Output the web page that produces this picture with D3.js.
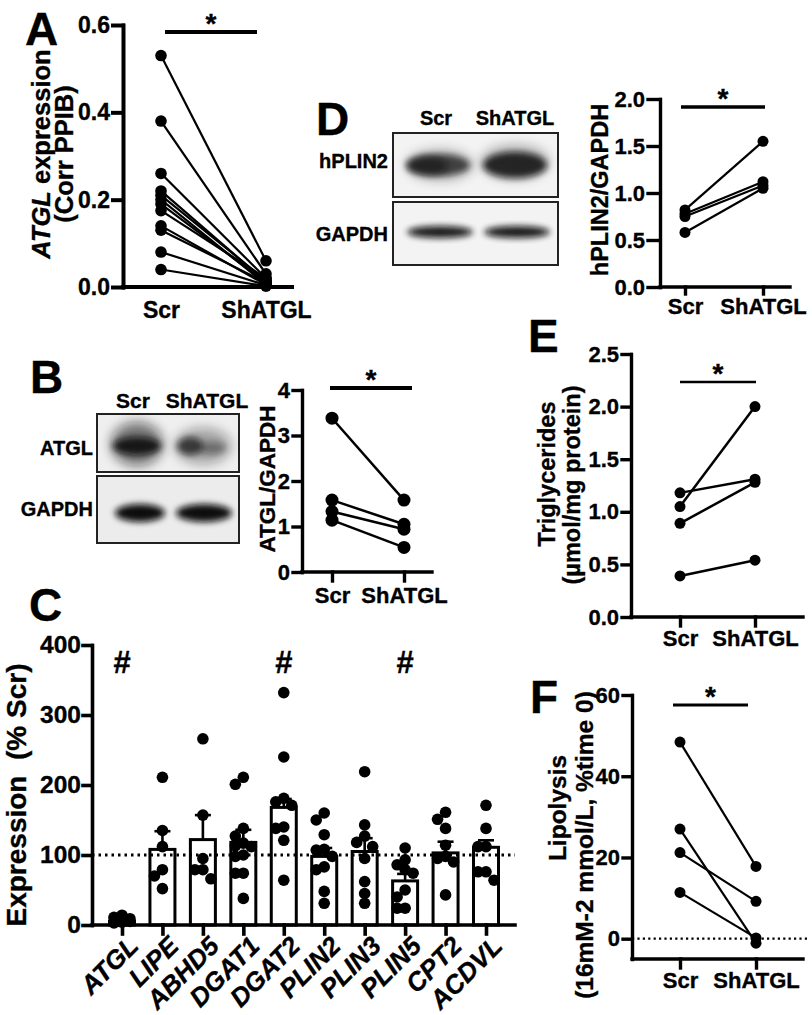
<!DOCTYPE html>
<html><head><meta charset="utf-8">
<script src="https://cdn.jsdelivr.net/npm/d3@7"></script>
<style>
body{margin:0;background:#fff;}
svg{display:block;}
text{font-family:"Liberation Sans",Arial,Helvetica,sans-serif;font-weight:bold;fill:#000;stroke:#000;stroke-width:0.35px;}
</style></head><body>
<svg id="fig" width="812" height="1015" xmlns="http://www.w3.org/2000/svg"></svg>
<script>
// ---------------- DATA ----------------
const groups = ["Scr", "ShATGL"];

// A: ATGL expression (Corr PPIB)
const atglScr = [0.53, 0.38, 0.26, 0.22, 0.21, 0.20, 0.19, 0.175, 0.14, 0.13, 0.08, 0.04];
const atglSh  = [0.06, 0.03, 0.02, 0.012, 0.015, 0.006, 0.01, 0.02, 0.005, 0.01, 0.004, 0.002];
const atglTicks = [0, 0.2, 0.4, 0.6];

// B: ATGL/GAPDH
const wbScr = [3.38, 1.58, 1.33, 1.14];
const wbSh  = [1.58, 1.05, 0.94, 0.54];
const wbTicks = [0, 1, 2, 3, 4];

// D: hPLIN2/GAPDH
const plinScr = [0.82, 0.78, 0.75, 0.58];
const plinSh  = [1.55, 1.12, 1.08, 1.05];
const plinTicks = [0, 0.5, 1.0, 1.5, 2.0];

// C: Expression (% Scr)
const genes = ["ATGL", "LIPE", "ABHD5", "DGAT1", "DGAT2", "PLIN2", "PLIN3", "PLIN5", "CPT2", "ACDVL"];
const geneMean = [5, 108, 122, 118, 168, 98, 105, 63, 103, 111];
const geneSem  = [2, 26, 35, 18, 12, 12, 19, 10, 16, 10];
const genePoints = [
  [14, 11, 9, 7, 6, 5, 4, 3],
  [211, 135, 112, 79, 70, 52],
  [266, 157, 95, 79, 79, 66],
  [201, 211, 138, 127, 117, 113, 112, 100, 98, 74, 74, 38],
  [332, 240, 181, 176, 171, 140, 138, 121, 64],
  [160, 150, 129, 108, 107, 98, 83, 79, 48, 31],
  [219, 143, 127, 118, 112, 95, 62, 45, 31],
  [110, 93, 86, 79, 74, 50, 40, 24, 24],
  [161, 151, 138, 114, 98, 95, 90, 43],
  [171, 138, 112, 112, 76, 76, 64]
];
const geneSig = ["ATGL", "DGAT2", "PLIN5"];
const geneTicks = [0, 100, 200, 300, 400];

// E: Triglycerides
const tgScr = [1.18, 1.05, 0.89, 0.39];
const tgSh  = [1.31, 2.00, 1.28, 0.54];
const tgTicks = [0, 0.5, 1.0, 1.5, 2.0, 2.5];

// F: Lipolysis
const lipScr = [48.4, 27.0, 21.2, 11.4];
const lipSh  = [17.8, -1.1, 9.2, 0.2];
const lipTicks = [0, 20, 40, 60];

// ---------------- DRAWING ----------------
const svg = d3.select("#fig");
const defs = svg.append("defs");
defs.append("filter").attr("id", "blur").attr("x", "-50%").attr("y", "-50%").attr("width", "200%").attr("height", "200%")
  .append("feGaussianBlur").attr("stdDeviation", 3.2);
defs.append("filter").attr("id", "blur2").attr("x", "-50%").attr("y", "-50%").attr("width", "200%").attr("height", "200%")
  .append("feGaussianBlur").attr("stdDeviation", 6);

function styleAxis(a, sw, fs) {
  a.attr("font-size", null).attr("font-family", null);
  a.selectAll("path,line").attr("stroke", "#000").attr("stroke-width", sw).attr("stroke-linecap", "square");
  a.selectAll("text").style("font-size", fs + "px").attr("fill", "#000");
}

function letter(t, x, y) {
  svg.append("text").attr("x", x).attr("y", y).style("font-size", "46px").text(t);
}

function vtitle(lines, cx, cys, fs, gap) {
  lines.forEach((ln, i) => {
    const cy = Array.isArray(cys) ? cys[i] : cys;
    const t = svg.append("text")
      .attr("transform", `translate(${cx + i * gap},${cy}) rotate(-90)`)
      .attr("text-anchor", "middle").attr("dy", "0.35em")
      .style("font-size", fs + "px");
    ln.forEach(seg => t.append("tspan").style("font-style", seg.i ? "italic" : "normal").text(seg.t));
  });
}

function paired(cfg) {
  const g = svg.append("g");
  const xs = cfg.xs, ys = cfg.ys;
  const y0 = ys.range()[0];
  if (cfg.zeroLine) {
    g.append("line").attr("x1", cfg.axisX).attr("x2", cfg.zeroLine).attr("y1", ys(0)).attr("y2", ys(0))
      .attr("stroke", "#000").attr("stroke-width", 2.2).attr("stroke-dasharray", "2.2,3.2");
  }
  const ya = g.append("g").attr("transform", `translate(${cfg.axisX},0)`)
    .call(d3.axisLeft(ys).tickValues(cfg.ticks).tickFormat(cfg.fmt).tickSize(cfg.ytick).tickSizeOuter(0).tickPadding(3));
  const xa = g.append("g").attr("transform", `translate(0,${y0})`)
    .call(d3.axisBottom(xs).tickSize(cfg.xtick).tickSizeOuter(0).tickPadding(cfg.xpad));
  xa.select(".domain").attr("d", `M${cfg.axisX},0H${cfg.axisEnd}`);
  styleAxis(ya, cfg.sw, cfg.fs);
  styleAxis(xa, cfg.sw, cfg.xfs || cfg.fs);
  const pairs = cfg.scr.map((v, i) => [v, cfg.sh[i]]);
  g.selectAll("line.pair").data(pairs).join("line").attr("class", "pair")
    .attr("x1", xs("Scr")).attr("x2", xs("ShATGL"))
    .attr("y1", d => ys(d[0])).attr("y2", d => ys(d[1]))
    .attr("stroke", "#000").attr("stroke-width", cfg.lw);
  const pts = [];
  pairs.forEach(p => { pts.push(["Scr", p[0]]); pts.push(["ShATGL", p[1]]); });
  g.selectAll("circle").data(pts).join("circle")
    .attr("cx", d => xs(d[0])).attr("cy", d => ys(d[1])).attr("r", cfg.r).attr("fill", "#000");
  const s = cfg.sig;
  g.append("line").attr("x1", s.x1).attr("x2", s.x2).attr("y1", s.y).attr("y2", s.y)
    .attr("stroke", "#000").attr("stroke-width", s.w);
  g.append("text").attr("x", (s.x1 + s.x2) / 2).attr("y", s.y + 1).attr("text-anchor", "middle")
    .style("font-size", "28px").text("*");
}

function blot(x, y, w, h, fill, bands) {
  const g = svg.append("g");
  g.append("rect").attr("x", x).attr("y", y).attr("width", w).attr("height", h)
    .attr("fill", fill).attr("stroke", "#222").attr("stroke-width", 2);
  const clipId = "clip" + Math.round(x) + "_" + Math.round(y);
  defs.append("clipPath").attr("id", clipId).append("rect").attr("x", x).attr("y", y).attr("width", w).attr("height", h);
  const inner = g.append("g").attr("clip-path", `url(#${clipId})`);
  bands.forEach(b => {
    inner.append("ellipse").attr("cx", b[0]).attr("cy", b[1]).attr("rx", b[2]).attr("ry", b[3])
      .attr("fill", "#0a0a0a").attr("opacity", b[4]).attr("filter", b[5] ? "url(#blur2)" : "url(#blur)");
  });
}

// ---------- Panel A ----------
letter("A", 25, 45);
paired({
  xs: d3.scalePoint().domain(groups).range([161, 266]),
  ys: d3.scaleLinear().domain([0, 0.6]).range([287, 25]),
  axisX: 123, axisEnd: 292, ticks: atglTicks, fmt: d3.format(".1f"),
  ytick: 10, xtick: 0, xpad: 15, sw: 4, fs: 23, lw: 2.2, r: 5.8,
  scr: atglScr, sh: atglSh, sig: {x1: 165, x2: 257, y: 32, w: 4}
});
vtitle([[{t: "ATGL", i: true}, {t: " expression"}], [{t: "(Corr PPIB)"}]], 41, 154, 25.5, 23);

// ---------- Panel D ----------
letter("D", 316, 135);
blot(393, 133, 165, 64, "#f3f3f3", [
  [438, 165, 32, 11, 0.7, false], [428, 166, 20, 9, 0.55, false], [440, 165, 34, 16, 0.25, true],
  [515, 165, 32, 13, 0.85, false], [515, 162, 34, 17, 0.3, true]
]);
blot(393, 202, 165, 63, "#f3f3f3", [
  [440, 232, 33, 6, 0.95, false], [517, 232, 33, 6, 0.95, false]
]);
svg.append("text").attr("x", 436).attr("y", 125).attr("text-anchor", "middle").style("font-size", "20px").text("Scr");
svg.append("text").attr("x", 515).attr("y", 125).attr("text-anchor", "middle").style("font-size", "20px").text("ShATGL");
svg.append("text").attr("x", 388).attr("y", 168).attr("text-anchor", "end").style("font-size", "20px").text("hPLIN2");
svg.append("text").attr("x", 388).attr("y", 241).attr("text-anchor", "end").style("font-size", "20px").text("GAPDH");
paired({
  xs: d3.scalePoint().domain(groups).range([685, 763]),
  ys: d3.scaleLinear().domain([0, 2]).range([287, 99]),
  axisX: 660, axisEnd: 790, ticks: plinTicks, fmt: d3.format(".1f"),
  ytick: 12, xtick: 7, xpad: 4, sw: 3.4, fs: 22, lw: 2.2, r: 5.5,
  scr: plinScr, sh: plinSh, sig: {x1: 681, x2: 765, y: 107, w: 3.5}
});
vtitle([[{t: "hPLIN2/GAPDH"}]], 600, 190, 23.5, 0);

// ---------- Panel B ----------
letter("B", 30, 393);
blot(97, 414, 142, 58, "#efefef", [
  [137, 444, 26, 22, 0.55, true], [137, 446, 24, 9, 0.9, false],
  [203, 446, 28, 18, 0.35, true], [190, 446, 13, 9, 0.7, false], [212, 448, 14, 6, 0.35, false]
]);
blot(97, 476, 142, 67, "#ececec", [
  [140, 513, 25, 9, 1, false], [204, 513, 28, 9, 1, false]
]);
svg.append("text").attr("x", 133).attr("y", 408).attr("text-anchor", "middle").style("font-size", "21px").text("Scr");
svg.append("text").attr("x", 207).attr("y", 408).attr("text-anchor", "middle").style("font-size", "21px").text("ShATGL");
svg.append("text").attr("x", 93).attr("y", 455).attr("text-anchor", "end").style("font-size", "20px").text("ATGL");
svg.append("text").attr("x", 93).attr("y", 516).attr("text-anchor", "end").style("font-size", "20px").text("GAPDH");
paired({
  xs: d3.scalePoint().domain(groups).range([332, 404]),
  ys: d3.scaleLinear().domain([0, 4]).range([572, 390]),
  axisX: 302, axisEnd: 432, ticks: wbTicks, fmt: d3.format("d"),
  ytick: 9, xtick: 9, xpad: 6, sw: 3.4, fs: 22, lw: 2.5, r: 6.5,
  scr: wbScr, sh: wbSh, sig: {x1: 330, x2: 412, y: 388, w: 4}
});
vtitle([[{t: "ATGL/GAPDH"}]], 267, 479, 22.5, 0);

// ---------- Panel C ----------
letter("C", 29, 621);
(function () {
  const g = svg.append("g");
  const xs = d3.scalePoint().domain(genes).range([122, 486]);
  const ys = d3.scaleLinear().domain([0, 400]).range([925, 645]);
  const axisX = 92, axisEnd = 515, r = 5.8, bw = 25;
  g.selectAll("rect.bar").data(genes).join("rect").attr("class", "bar")
    .attr("x", d => xs(d) - bw / 2).attr("width", bw)
    .attr("y", (d, i) => ys(geneMean[i])).attr("height", (d, i) => ys(0) - ys(geneMean[i]))
    .attr("fill", "#fff").attr("stroke", "#000").attr("stroke-width", 3);
  g.selectAll("line.err").data(genes).join("line").attr("class", "err")
    .attr("x1", d => xs(d)).attr("x2", d => xs(d))
    .attr("y1", (d, i) => ys(geneMean[i])).attr("y2", (d, i) => ys(geneMean[i] + geneSem[i]))
    .attr("stroke", "#000").attr("stroke-width", 2.6);
  g.selectAll("line.cap").data(genes).join("line").attr("class", "cap")
    .attr("x1", d => xs(d) - 8).attr("x2", d => xs(d) + 8)
    .attr("y1", (d, i) => ys(geneMean[i] + geneSem[i])).attr("y2", (d, i) => ys(geneMean[i] + geneSem[i]))
    .attr("stroke", "#000").attr("stroke-width", 2.6);
  g.append("line").attr("x1", axisX).attr("x2", axisEnd).attr("y1", ys(100)).attr("y2", ys(100))
    .attr("stroke", "#000").attr("stroke-width", 3).attr("stroke-dasharray", "2.5,4");
  // column scatter: three columns (centre, left, right); pick first free slot, else least crowded
  const offsets = [0, -8, 8];
  genePoints.forEach((vals, gi) => {
    const cx = xs(genes[gi]);
    const placed = [];
    const order = vals.map((v, i) => i).sort((a, b) => vals[b] - vals[a]);
    order.forEach(i => {
      const py = ys(vals[i]);
      let best = null, bestD = -1;
      for (const off of offsets) {
        const px = cx + off;
        const dmin = placed.length ? d3.min(placed, p => Math.hypot(p[0] - px, p[1] - py)) : Infinity;
        if (dmin >= 1.6 * r) { best = [px, py]; break; }
        if (dmin > bestD) { bestD = dmin; best = [px, py]; }
      }
      placed.push(best);
    });
    g.selectAll(null).data(placed).join("circle")
      .attr("cx", d => d[0]).attr("cy", d => d[1]).attr("r", r).attr("fill", "#000");
  });
  const ya = g.append("g").attr("transform", `translate(${axisX},0)`)
    .call(d3.axisLeft(ys).tickValues(geneTicks).tickFormat(d3.format("d")).tickSize(9).tickSizeOuter(0).tickPadding(2));
  const xa = g.append("g").attr("transform", `translate(0,${ys(0)})`)
    .call(d3.axisBottom(xs).tickSize(9).tickSizeOuter(0));
  xa.select(".domain").attr("d", `M${axisX},0H${axisEnd}`);
  styleAxis(ya, 3.6, 24.5);
  styleAxis(xa, 3.6, 26);
  xa.selectAll("text").attr("x", 0).attr("y", 0).attr("dy", "0.35em")
    .attr("text-anchor", "end").attr("transform", "translate(11,16) rotate(-45)")
    .style("font-style", "italic");
  g.selectAll("text.hash").data(geneSig).join("text").attr("class", "hash")
    .attr("x", d => xs(d)).attr("y", 673).attr("text-anchor", "middle")
    .style("font-size", "31px").text("#");
})();
vtitle([[{t: "Expression\u00A0 (% Scr)"}]], 16, 795, 28, 0);

// ---------- Panel E ----------
letter("E", 528, 352);
paired({
  xs: d3.scalePoint().domain(groups).range([680, 755]),
  ys: d3.scaleLinear().domain([0, 2.5]).range([617, 354]),
  axisX: 631, axisEnd: 803, ticks: tgTicks, fmt: d3.format(".1f"),
  ytick: 9, xtick: 9, xpad: 4, sw: 3.4, fs: 22, lw: 2.5, r: 5.5,
  scr: tgScr, sh: tgSh, sig: {x1: 680, x2: 756, y: 382, w: 2.6}
});
vtitle([[{t: "Triglycerides"}], [{t: "(\u00B5mol/mg protein)"}]], 547, [474, 485], 23.5, 25);

// ---------- Panel F ----------
letter("F", 530, 713);
paired({
  xs: d3.scalePoint().domain(groups).range([680, 756]),
  ys: d3.scaleLinear().domain([-5, 60]).range([959, 695]),
  axisX: 632, axisEnd: 803, ticks: lipTicks, fmt: d3.format("d"),
  ytick: 9, xtick: 9, xpad: 4, sw: 3.4, fs: 22, lw: 2.2, r: 5.5,
  scr: lipScr, sh: lipSh, sig: {x1: 673, x2: 748, y: 705, w: 3},
  zeroLine: 807
});
vtitle([[{t: "Lipolysis"}], [{t: "(16mM-2 mmol/L, %time 0)"}]], 557, [808, 845], 24.5, 27);
</script>
</body></html>
